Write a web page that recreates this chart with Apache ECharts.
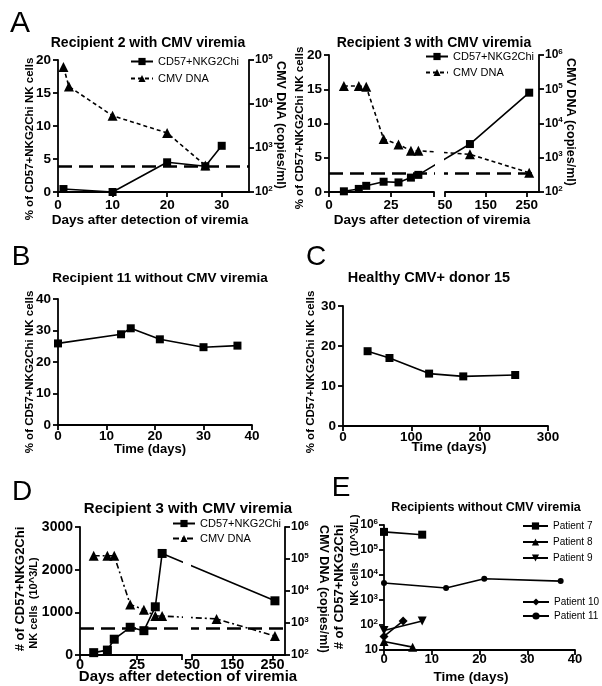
<!DOCTYPE html>
<html><head><meta charset="utf-8">
<script src="https://cdn.jsdelivr.net/npm/echarts@6/dist/echarts.min.js"></script>
<style>html,body{margin:0;padding:0;background:#fff}#c{width:602px;height:686px}</style>
</head><body><div id="c"></div>
<script>
// ---------------- DATA ----------------
const a1Days = [1, 10, 20, 27, 30];
const a1CD57 = [0.45, 0, 4.5, 3.9, 7.0];
const a1CmvDays = [1, 2, 10, 20, 27];
const a1Cmv = [69000, 25000, 5400, 2200, 400];
const a1Threshold = 3.9;
const a1XTicks = [0, 10, 20, 30];

const a2Days = [6, 12, 15, 22, 28, 33, 36, 111, 256];
const a2CD57 = [0.1, 0.45, 0.9, 1.5, 1.4, 2.1, 2.5, 7.0, 14.5];
const a2Cmv = [124000, 124000, 118000, 3500, 2450, 1600, 1600, 1260, 365];
const a2Threshold = 2.8;

const bDays = [0, 13, 15, 21, 30, 37];
const bCD57 = [25.9, 28.8, 30.7, 27.2, 24.7, 25.2];

const cDays = [36, 68, 126, 176, 252];
const cCD57 = [18.7, 17.0, 13.1, 12.4, 12.75];

const dCD57Days = [6, 12, 15, 22, 28, 33, 36, 256];
const dCD57 = [55, 115, 370, 650, 570, 1130, 2380, 1270];
const dCmvDays = [6, 12, 15, 22, 28, 33, 36, 111, 256];
const dCmv = [126000, 126000, 126000, 3800, 2600, 1650, 1650, 1340, 390];
const dThreshold = 620;

const brokenLeftTicks = [0, 25];
const brokenRightTicks = [50, 150, 250];

const eP7Days = [0, 8];            const eP7 = [530000, 410000];
const eP8Days = [0, 6];            const eP8 = [22, 13];
const eP9Days = [0, 8];            const eP9 = [60, 145];
const eP10Days = [0, 4];           const eP10 = [35, 145];
const eP11Days = [0, 13, 21, 37];  const eP11 = [4800, 3000, 7100, 5700];

// names (zero-width suffixes keep each panel's legend tied to its own series)
const NAME_CD57 = 'CD57+NKG2Chi';
const NAME_CMV = 'CMV DNA';
const ZW = '\u200b';

// broken-axis scale domains (days)
const a2Break = { leftMax: 42.3, rightMin: 50, rightMax: 280 };
const dBreak  = { leftMax: 44.7, rightMin: 50, rightMax: 281 };

// ---------------- LAYOUT ----------------
const FONT = "'Liberation Sans', Arial, Helvetica, sans-serif";
const G = {
  a1:  { left: 58,  top: 60,  width: 191, height: 132 },
  a2d: { left: 329, top: 55,  width: 210, height: 137 },
  a2L: { left: 329, top: 55,  width: 105, height: 137 },
  a2R: { left: 445, top: 55,  width: 94,  height: 137 },
  b:   { left: 58,  top: 299, width: 194, height: 126 },
  c:   { left: 343, top: 306, width: 205, height: 120 },
  dd:  { left: 80,  top: 527, width: 205, height: 128 },
  dL:  { left: 80,  top: 527, width: 102, height: 128 },
  dR:  { left: 192, top: 527, width: 93,  height: 128 },
  e:   { left: 384, top: 525, width: 191, height: 125 }
};

function brokenU(d, brk, gD, gL, gR) {
  if (d <= brk.leftMax) return d / brk.leftMax * gL.width;
  return (gR.left - gD.left) + (d - brk.rightMin) / (brk.rightMax - brk.rightMin) * gR.width;
}
const zip = (xs, ys) => xs.map((x, i) => [x, ys[i]]);
const zipU = (xs, ys, brk, gD, gL, gR) => xs.map((x, i) => [brokenU(x, brk, gD, gL, gR), ys[i]]);

const BLACK = '#000';
const axLine = { show: true, onZero: false, lineStyle: { color: BLACK, width: 1.8 } };
function axTick(vals) { const t = { show: true, length: 5, lineStyle: { color: BLACK, width: 1.8 } }; if (vals) t.customValues = vals; return t; }
function axLabel(fs, margin, vals) {
  const t = { color: BLACK, fontWeight: 'bold', fontSize: fs, fontFamily: FONT, margin: margin, formatter: v => String(v) };
  if (vals) t.customValues = vals; return t;
}
function logLabel(fs, margin) {
  return {
    color: BLACK, margin: margin,
    formatter: v => { const e = Math.round(Math.log10(v)); return e === 1 ? '{b|10}' : '{b|10}{s|' + e + '}'; },
    rich: {
      b: { fontSize: fs, fontWeight: 'bold', fontFamily: FONT, color: BLACK },
      s: { fontSize: Math.round(fs * 0.68), fontWeight: 'bold', fontFamily: FONT, color: BLACK, padding: [0, 0, Math.round(fs * 0.55), 0] }
    }
  };
}
const noSplit = { show: false };

function valX(gi, min, max, fs, margin, ticks, labels, interval) {
  const a = { gridIndex: gi, type: 'value', min, max, axisLine: axLine, axisTick: axTick(ticks), axisLabel: axLabel(fs, margin, labels), splitLine: noSplit };
  if (interval) a.interval = interval;
  return a;
}
function valY(gi, min, max, interval, fs, margin) {
  return { gridIndex: gi, type: 'value', min, max, interval, axisLine: axLine, axisTick: axTick(), axisLabel: axLabel(fs, margin), splitLine: noSplit };
}
function logY(gi, min, max, pos, fs, margin) {
  return { gridIndex: gi, type: 'log', logBase: 10, min, max, position: pos, axisLine: axLine, axisTick: axTick(), axisLabel: logLabel(fs, margin), splitLine: noSplit };
}
const hiddenX = (gi, max) => ({ gridIndex: gi, type: 'value', min: 0, max, show: false });
const hiddenY = gi => ({ gridIndex: gi, type: 'value', min: 0, max: 1, show: false });

function cdSeries(name, xi, yi, data, extra) {
  return Object.assign({ name, type: 'line', xAxisIndex: xi, yAxisIndex: yi, data, clip: false,
    symbol: 'rect', symbolSize: 8, lineStyle: { color: BLACK, width: 1.6 }, itemStyle: { color: BLACK } }, extra || {});
}
function cmvSeries(name, xi, yi, data, dash) {
  return { name, type: 'line', xAxisIndex: xi, yAxisIndex: yi, data, clip: false,
    symbol: 'triangle', symbolSize: 10, lineStyle: { color: BLACK, width: 1.6, type: dash }, itemStyle: { color: BLACK } };
}
function thrSeries(xi, yi, value) {
  return { type: 'line', xAxisIndex: xi, yAxisIndex: yi, data: [], z: 20, silent: true,
    markLine: { silent: true, symbol: 'none', animation: false, label: { show: false },
      lineStyle: { color: BLACK, width: 2.6, type: [14, 7] }, data: [{ yAxis: value }] } };
}
function txt(text, x, y, fs, rot, bold) {
  return { type: 'text', x, y, rotation: rot || 0, z: 50, silent: true,
    style: { text, fill: BLACK, fontSize: fs, fontWeight: bold === false ? 'normal' : 'bold', fontFamily: FONT, align: 'center', verticalAlign: 'middle' } };
}
function mask(gL, gR) {
  return { type: 'rect', z: 10, silent: true,
    shape: { x: gL.left + gL.width + 1, y: gL.top - 2, width: gR.left - (gL.left + gL.width) - 2, height: gL.height },
    style: { fill: '#fff' } };
}
const legendText = fs => ({ color: BLACK, fontSize: fs, fontFamily: FONT });
const UP = Math.PI / 2, DOWN = -Math.PI / 2;
function legend(left, top, gap, iw, fs, data) {
  return { left, top, z: 30, padding: 0, orient: 'vertical', itemGap: gap, itemWidth: iw, itemHeight: 9, selectedMode: false,
    textStyle: legendText(fs), data };
}

const option = {
  backgroundColor: '#fff',
  animation: false,
  grid: [G.a1, G.a2d, G.a2L, G.a2R, G.b, G.c, G.dd, G.dL, G.dR, G.e].map(g => Object.assign({ containLabel: false }, g)),
  xAxis: [
    valX(0, 0, 35, 13.5, 6, a1XTicks, a1XTicks),
    hiddenX(1, G.a2d.width),
    valX(2, 0, a2Break.leftMax, 13.5, 6, brokenLeftTicks.concat([a2Break.leftMax]), brokenLeftTicks),
    valX(3, a2Break.rightMin, a2Break.rightMax, 13.5, 6, brokenRightTicks, brokenRightTicks),
    valX(4, 0, 40, 13.5, 4, null, null, 10),
    valX(5, 0, 300, 13.5, 4, null, null, 100),
    hiddenX(6, G.dd.width),
    valX(7, 0, dBreak.leftMax, 14.5, 2, brokenLeftTicks.concat([dBreak.leftMax]), brokenLeftTicks),
    valX(8, dBreak.rightMin, dBreak.rightMax, 14.5, 2, brokenRightTicks, brokenRightTicks),
    valX(9, 0, 40, 13, 3, null, null, 10)
  ],
  yAxis: [
    valY(0, 0, 20, 5, 13.5, 7),
    logY(0, 100, 100000, 'right', 12, 6),
    valY(1, 0, 20, 5, 13.5, 7),
    logY(1, 100, 1000000, 'right', 12, 6),
    hiddenY(2), hiddenY(3),
    valY(4, 0, 40, 10, 13.5, 7),
    valY(5, 0, 30, 10, 13.5, 7),
    valY(6, 0, 3000, 1000, 14, 7),
    logY(6, 100, 1000000, 'right', 12, 6),
    hiddenY(7), hiddenY(8),
    logY(9, 10, 1000000, 'left', 12, 6)
  ],
  legend: [
    legend(130, 56, 6, 22, 11, [NAME_CD57, NAME_CMV]),
    legend(425, 51, 5, 22, 11, [NAME_CD57 + ZW, NAME_CMV + ZW]),
    legend(172, 518, 4, 22, 11, [NAME_CD57 + ZW + ZW, NAME_CMV + ZW + ZW]),
    legend(522, 521, 6, 25, 10, ['Patient 7', 'Patient 8', 'Patient 9']),
    legend(522, 597, 4, 26, 10, ['Patient 10', 'Patient 11'])
  ],
  series: [
    cdSeries(NAME_CD57, 0, 0, zip(a1Days, a1CD57)),
    cmvSeries(NAME_CMV, 0, 1, zip(a1CmvDays, a1Cmv), [4, 3]),
    thrSeries(0, 0, a1Threshold),

    cdSeries(NAME_CD57 + ZW, 1, 2, zipU(a2Days, a2CD57, a2Break, G.a2d, G.a2L, G.a2R)),
    cmvSeries(NAME_CMV + ZW, 1, 3, zipU(a2Days, a2Cmv, a2Break, G.a2d, G.a2L, G.a2R), [4, 3]),
    thrSeries(1, 2, a2Threshold),

    cdSeries('B CD57', 4, 6, zip(bDays, bCD57)),
    cdSeries('C CD57', 5, 7, zip(cDays, cCD57)),

    cdSeries(NAME_CD57 + ZW + ZW, 6, 8, zipU(dCD57Days, dCD57, dBreak, G.dd, G.dL, G.dR), { symbolSize: 9 }),
    cmvSeries(NAME_CMV + ZW + ZW, 6, 9, zipU(dCmvDays, dCmv, dBreak, G.dd, G.dL, G.dR), [6, 3, 2, 3]),
    thrSeries(6, 8, dThreshold),

    cdSeries('Patient 7', 9, 12, zip(eP7Days, eP7)),
    cdSeries('Patient 8', 9, 12, zip(eP8Days, eP8), { symbol: 'triangle', symbolSize: 9 }),
    cdSeries('Patient 9', 9, 12, zip(eP9Days, eP9), { symbol: 'triangle', symbolRotate: 180, symbolSize: 9 }),
    cdSeries('Patient 10', 9, 12, zip(eP10Days, eP10), { symbol: 'diamond', symbolSize: 9 }),
    cdSeries('Patient 11', 9, 12, zip(eP11Days, eP11), { symbol: 'circle', symbolSize: 6 })
  ],
  graphic: [
    mask(G.a2L, G.a2R), mask(G.dL, G.dR),
    // panel letters
    txt('A', 20, 24, 30, 0, false),
    txt('B', 21, 257, 28, 0, false),
    txt('C', 316, 257, 28, 0, false),
    txt('D', 22, 492, 28, 0, false),
    txt('E', 341, 488, 28, 0, false),
    // titles
    txt('Recipient 2 with CMV viremia', 148, 43, 14),
    txt('Recipient 3 with CMV viremia', 434, 43, 14),
    txt('Recipient 11 without CMV viremia', 160, 278, 13.5),
    txt('Healthy CMV+ donor 15', 429, 278, 14.5),
    txt('Recipient 3 with CMV viremia', 188, 509, 15),
    txt('Recipients without CMV viremia', 486, 508, 12.5),
    // x-axis names
    txt('Days after detection of viremia', 150, 220, 13.5),
    txt('Days after detection of viremia', 432, 220, 13.5),
    txt('Time (days)', 150, 449, 13),
    txt('Time (days)', 449, 447, 13.5),
    txt('Days after detection of viremia', 188, 677, 15),
    txt('Time (days)', 471, 677, 13.5),
    // y-axis names
    txt('% of CD57+NKG2Chi NK cells', 30, 139, 11.5, UP),
    txt('CMV DNA (copies/ml)', 280, 125, 12.5, DOWN),
    txt('% of CD57+NKG2Chi NK cells', 300, 128, 11.5, UP),
    txt('CMV DNA (copies/ml)', 570, 122, 12.5, DOWN),
    txt('% of CD57+NKG2Chi NK cells', 30, 372, 11.5, UP),
    txt('% of CD57+NKG2Chi NK cells', 311, 372, 11.5, UP),
    txt('# of CD57+NKG2Chi', 20, 589, 13, UP),
    txt('NK cells  (10^3/L)', 34, 603, 11, UP),
    txt('CMV DNA (copies/ml)', 323, 589, 12.5, DOWN),
    txt('# of CD57+NKG2Chi', 339, 587, 13, UP),
    txt('NK cells  (10^3/L)', 355, 560, 11, UP)
  ]
};

const chart = echarts.init(document.getElementById('c'), null, { renderer: 'canvas' });
chart.setOption(option);
</script>
</body></html>
